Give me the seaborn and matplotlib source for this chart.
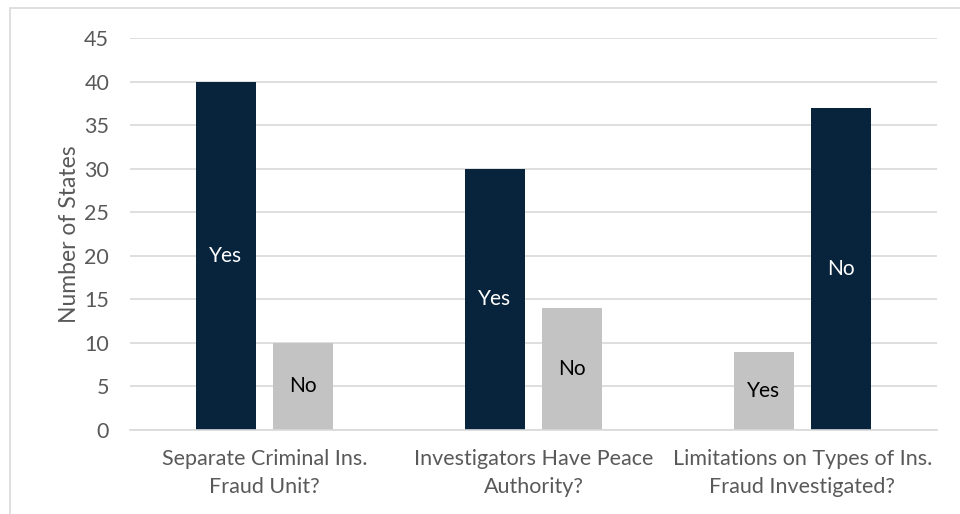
import pandas as pd
import matplotlib.pyplot as plt
import seaborn as sns
from matplotlib.patches import Rectangle

questions = ["Separate Criminal Ins.\nFraud Unit?",
             "Investigators Have Peace\nAuthority?",
             "Limitations on Types of Ins.\nFraud Investigated?"]
yes_counts = [40, 30, 9]
no_counts = [10, 14, 37]

dark = "#08243D"
light = "#C3C3C3"

df = pd.DataFrame({
    "Question": questions * 2,
    "Answer": ["Yes"] * 3 + ["No"] * 3,
    "Count": yes_counts + no_counts,
})

sns.set_theme(style="white")
plt.rcParams['font.family'] = ['Lato', 'DejaVu Sans']

fig = plt.figure(figsize=(9.6, 5.14), dpi=100)
ax = fig.add_axes([0.1354, 0.1634, 0.8406, 0.7626])

sns.barplot(data=df, x="Question", y="Count", hue="Answer", order=questions,
            hue_order=["Yes", "No"], width=0.572, gap=0.22, legend=False, ax=ax)

# darker colour marks the majority answer
for cont, ans in zip(ax.containers, ["Yes", "No"]):
    vals = yes_counts if ans == "Yes" else no_counts
    for i, bar in enumerate(cont):
        major = vals[i] >= max(yes_counts[i], no_counts[i])
        bar.set_facecolor(dark if major else light)
        bar.set_edgecolor("none")
    labels = ax.bar_label(cont, labels=[ans] * 3, label_type="center", fontsize=15)
    for i, t in enumerate(labels):
        major = vals[i] >= max(yes_counts[i], no_counts[i])
        t.set_color("white" if major else "black")

ax.set_ylim(0, 45)
ax.set_yticks(range(0, 50, 5))
ax.set_xlim(-0.5, 2.5)
ax.yaxis.grid(True, color="#D9D9D9", linewidth=1.2)
ax.set_axisbelow(True)
for s in ["top", "right", "left"]:
    ax.spines[s].set_visible(False)
ax.spines["bottom"].set_color("#D9D9D9")
ax.spines["bottom"].set_linewidth(1.2)
ax.tick_params(axis="both", length=0, labelsize=15.5, colors="#595959", pad=14)
ax.tick_params(axis="y", pad=15)
for t in ax.get_xticklabels():
    t.set_linespacing(1.45)
ax.set_xlabel("")
ax.set_ylabel("Number of States", fontsize=16.5, color="#595959", labelpad=3)

# chart border
fig.patches.append(Rectangle((10 / 960, -0.1), 1.2, 1 - 8 / 514 + 0.1,
                             transform=fig.transFigure, fill=False,
                             edgecolor="#D9D9D9", linewidth=1.2))

fig.savefig("out.png", dpi=100)
